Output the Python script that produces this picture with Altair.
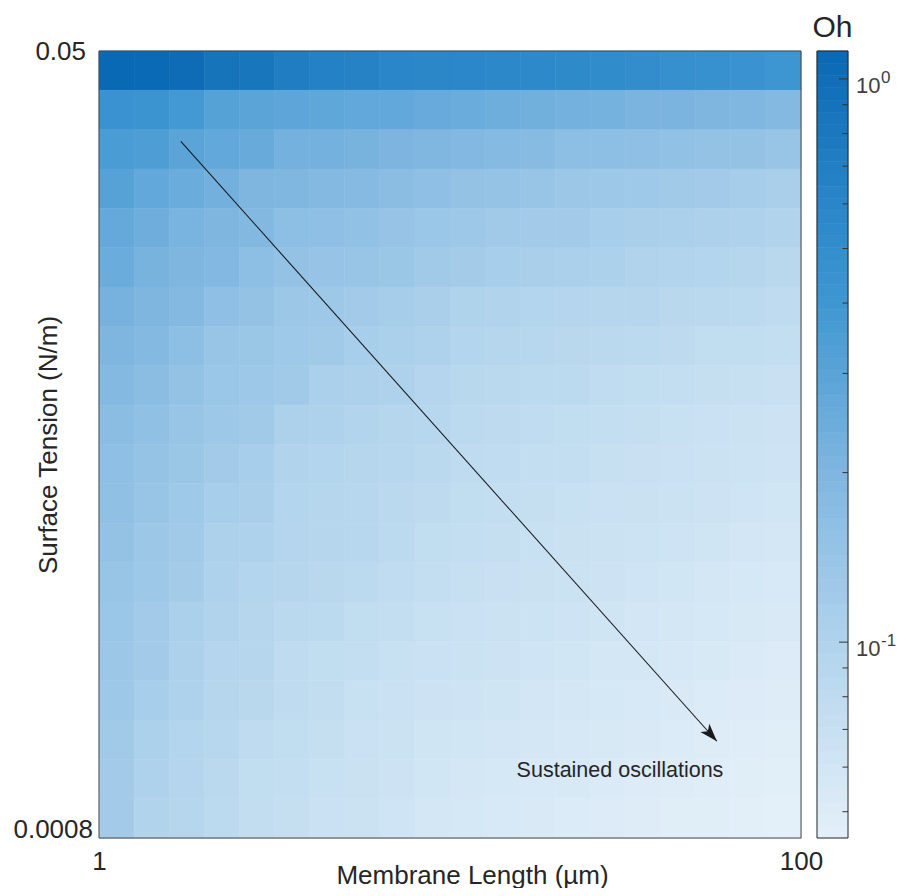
import numpy as np
import pandas as pd
import altair as alt

# ---------------- data ----------------
# grid: 20 log-spaced columns (membrane length 1..100 um) x 20 log-spaced rows (tension 0.0008..0.05 N/m)
length_edges = np.geomspace(1, 100, 21)
tension_edges = np.geomspace(0.0008, 0.05, 21)

# Oh per cell; rows listed from the top (0.05 N/m) to the bottom (0.0008 N/m), columns from 1 to 100 um
oh_r01 = [1.12, 1.10, 1.04, 0.887, 0.853, 0.729, 0.662, 0.649, 0.600, 0.589, 0.583, 0.577, 0.556, 0.545, 0.524, 0.504, 0.476, 0.458, 0.441, 0.416]
oh_r02 = [0.441, 0.432, 0.383, 0.315, 0.299, 0.286, 0.280, 0.274, 0.271, 0.259, 0.251, 0.240, 0.233, 0.225, 0.220, 0.211, 0.209, 0.202, 0.197, 0.186]
oh_r03 = [0.355, 0.340, 0.299, 0.271, 0.257, 0.225, 0.223, 0.216, 0.204, 0.197, 0.191, 0.183, 0.178, 0.165, 0.163, 0.160, 0.154, 0.151, 0.149, 0.141]
oh_r04 = [0.312, 0.271, 0.251, 0.228, 0.202, 0.197, 0.186, 0.180, 0.168, 0.160, 0.151, 0.147, 0.141, 0.132, 0.131, 0.127, 0.125, 0.120, 0.116, 0.111]
oh_r05 = [0.265, 0.238, 0.213, 0.200, 0.189, 0.165, 0.160, 0.154, 0.145, 0.137, 0.129, 0.125, 0.121, 0.120, 0.114, 0.111, 0.108, 0.105, 0.103, 0.0988]
oh_r06 = [0.251, 0.216, 0.202, 0.191, 0.163, 0.149, 0.143, 0.141, 0.134, 0.125, 0.118, 0.114, 0.109, 0.108, 0.106, 0.0988, 0.0973, 0.0959, 0.0931, 0.0866]
oh_r07 = [0.218, 0.202, 0.186, 0.160, 0.151, 0.132, 0.129, 0.120, 0.116, 0.111, 0.100, 0.0988, 0.0959, 0.0945, 0.0931, 0.0918, 0.0866, 0.0853, 0.0828, 0.0804]
oh_r08 = [0.200, 0.186, 0.163, 0.141, 0.134, 0.127, 0.123, 0.113, 0.108, 0.102, 0.0959, 0.0931, 0.0904, 0.0866, 0.0853, 0.0840, 0.0816, 0.0769, 0.0769, 0.0736]
oh_r09 = [0.186, 0.168, 0.151, 0.137, 0.131, 0.125, 0.108, 0.105, 0.103, 0.0945, 0.0878, 0.0853, 0.0840, 0.0828, 0.0781, 0.0769, 0.0736, 0.0725, 0.0715, 0.0694]
oh_r10 = [0.168, 0.158, 0.141, 0.129, 0.125, 0.105, 0.102, 0.0973, 0.0931, 0.0891, 0.0840, 0.0816, 0.0781, 0.0769, 0.0747, 0.0725, 0.0704, 0.0684, 0.0655, 0.0636]
oh_r11 = [0.160, 0.147, 0.134, 0.120, 0.114, 0.0988, 0.0959, 0.0931, 0.0891, 0.0853, 0.0804, 0.0781, 0.0747, 0.0736, 0.0715, 0.0694, 0.0684, 0.0664, 0.0645, 0.0626]
oh_r12 = [0.158, 0.141, 0.127, 0.113, 0.109, 0.0959, 0.0931, 0.0904, 0.0853, 0.0816, 0.0769, 0.0747, 0.0725, 0.0704, 0.0684, 0.0674, 0.0655, 0.0636, 0.0617, 0.0599]
oh_r13 = [0.151, 0.132, 0.123, 0.105, 0.102, 0.0945, 0.0918, 0.0891, 0.0840, 0.0769, 0.0747, 0.0725, 0.0704, 0.0674, 0.0664, 0.0645, 0.0626, 0.0608, 0.0591, 0.0574]
oh_r14 = [0.141, 0.129, 0.118, 0.102, 0.0959, 0.0931, 0.0866, 0.0840, 0.0781, 0.0736, 0.0715, 0.0694, 0.0674, 0.0655, 0.0636, 0.0617, 0.0599, 0.0582, 0.0565, 0.0549]
oh_r15 = [0.137, 0.121, 0.108, 0.0988, 0.0918, 0.0853, 0.0828, 0.0769, 0.0736, 0.0704, 0.0684, 0.0664, 0.0645, 0.0626, 0.0608, 0.0591, 0.0574, 0.0565, 0.0541, 0.0533]
oh_r16 = [0.132, 0.120, 0.105, 0.0945, 0.0918, 0.0804, 0.0769, 0.0747, 0.0704, 0.0684, 0.0655, 0.0636, 0.0617, 0.0599, 0.0582, 0.0574, 0.0557, 0.0541, 0.0525, 0.0510]
oh_r17 = [0.129, 0.113, 0.102, 0.0931, 0.0866, 0.0792, 0.0758, 0.0704, 0.0684, 0.0636, 0.0626, 0.0608, 0.0591, 0.0582, 0.0565, 0.0549, 0.0533, 0.0517, 0.0510, 0.0495]
oh_r18 = [0.125, 0.106, 0.0959, 0.0904, 0.0792, 0.0769, 0.0725, 0.0684, 0.0664, 0.0608, 0.0599, 0.0591, 0.0574, 0.0557, 0.0541, 0.0533, 0.0517, 0.0502, 0.0488, 0.0481]
oh_r19 = [0.121, 0.103, 0.0945, 0.0853, 0.0769, 0.0747, 0.0704, 0.0674, 0.0636, 0.0599, 0.0582, 0.0565, 0.0549, 0.0541, 0.0525, 0.0510, 0.0502, 0.0488, 0.0474, 0.0467]
oh_r20 = [0.120, 0.0988, 0.0918, 0.0840, 0.0758, 0.0725, 0.0684, 0.0655, 0.0617, 0.0582, 0.0565, 0.0549, 0.0533, 0.0517, 0.0510, 0.0495, 0.0481, 0.0474, 0.0460, 0.0453]

oh_rows = [oh_r01, oh_r02, oh_r03, oh_r04, oh_r05, oh_r06, oh_r07, oh_r08, oh_r09, oh_r10,
           oh_r11, oh_r12, oh_r13, oh_r14, oh_r15, oh_r16, oh_r17, oh_r18, oh_r19, oh_r20]

# colour bar: range, colour stops, ticks
oh_min, oh_max = 0.0449, 1.121
cmap_values = [oh_min, 0.1, 0.2, 0.4, 0.6, oh_max]
cmap_colors = ["#e4f0f9", "#b0d3ec", "#7fb6e0", "#3f97d2", "#2a86c8", "#0a69b4"]
cb_major = [1.0, 0.1]
cb_major_exp = ["0", "-1"]
cb_minor = [0.05, 0.06, 0.07, 0.08, 0.09, 0.2, 0.3, 0.4, 0.5, 0.6, 0.7, 0.8, 0.9]

# annotation (data coordinates)
arrow_length = [1.71, 57.6]
arrow_tension = [0.0311, 0.00133]
note_length = 30.5
note_tension = 0.00110
note_text = "Sustained oscillations"

# ---------------- tables ----------------
cells = []
for i, row in enumerate(oh_rows):
    for j, v in enumerate(row):
        cells.append({
            "L0": length_edges[j], "L1": length_edges[j + 1],
            "S0": tension_edges[19 - i], "S1": tension_edges[20 - i],
            "Oh": v,
        })
cells = pd.DataFrame(cells)

cb_edges = np.geomspace(oh_min, oh_max, 65)
cbar = pd.DataFrame({"lo": cb_edges[:-1], "hi": cb_edges[1:],
                     "Oh": np.sqrt(cb_edges[:-1] * cb_edges[1:])})
major_df = pd.DataFrame({"v": cb_major, "exp": cb_major_exp})
minor_df = pd.DataFrame({"v": cb_minor})
arrow_df = pd.DataFrame({"La": [arrow_length[0]], "Lb": [arrow_length[1]],
                         "Sa": [arrow_tension[0]], "Sb": [arrow_tension[1]]})
note_df = pd.DataFrame({"L": [note_length], "S": [note_tension], "t": [note_text]})

# ---------------- styling ----------------
FONT = "Liberation Sans"
TXT = "#262626"
W, H = 702, 787
CB_X0, CB_X1 = 718, 749

cscale = alt.Scale(type="log", domain=cmap_values, range=cmap_colors, interpolate="rgb")
xscale = alt.Scale(type="log", domain=[1, 100], nice=False, zero=False)
yscale = alt.Scale(type="log", domain=[0.0008, 0.05], nice=False, zero=False)
cbscale = alt.Scale(type="log", domain=[oh_min, oh_max], nice=False, zero=False)

xaxis = alt.Axis(values=[1, 100], labelExpr="datum.value < 10 ? '1' : '100'",
                 labelFlush=False, labelFontSize=26, labelColor=TXT, labelFont=FONT,
                 labelBaseline="alphabetic", labelPadding=31, ticks=False, tickSize=0,
                 domain=False, grid=False, title="Membrane Length (µm)",
                 titleFontSize=26, titleFontWeight="normal", titleColor=TXT, titleFont=FONT,
                 titleX=373, titleY=45, titleBaseline="alphabetic", titleAlign="center")
yaxis = alt.Axis(labels=False, ticks=False, domain=False, grid=False,
                 title="Surface Tension (N/m)", titleFontSize=26, titleFontWeight="normal",
                 titleColor=TXT, titleFont=FONT, titleX=-43, titleY=393.5, titleAngle=270,
                 titleBaseline="alphabetic", titleAlign="center")

heat = alt.Chart(cells).mark_rect(strokeWidth=0.6).encode(
    x=alt.X("L0:Q", scale=xscale, axis=xaxis),
    x2="L1:Q",
    y=alt.Y("S0:Q", scale=yscale, axis=yaxis),
    y2="S1:Q",
    color=alt.Color("Oh:Q", scale=cscale, legend=None),
    stroke=alt.Stroke("Oh:Q", scale=cscale, legend=None),
)

frame = alt.Chart(note_df).mark_rect(fill="transparent", stroke="#4d4d4d", strokeWidth=1).encode(
    x=alt.value(0), x2=alt.value(W), y=alt.value(0), y2=alt.value(H))

arrow_line = alt.Chart(arrow_df).mark_rule(color="#1a1a1a", strokeWidth=1.1).encode(
    x="La:Q", x2="Lb:Q", y="Sa:Q", y2="Sb:Q")
arrow_head = alt.Chart(arrow_df).mark_point(
    shape="M0,0L0.6,1.8L0,1.35L-0.6,1.8Z", filled=True, fill="#1a1a1a",
    strokeWidth=0, size=400, angle=138, opacity=1).encode(x="Lb:Q", y="Sb:Q")

note = alt.Chart(note_df).mark_text(fontSize=21.5, font=FONT, color=TXT, align="center",
                                    baseline="alphabetic").encode(x="L:Q", y="S:Q", text="t:N")

ylab_top = alt.Chart(note_df).mark_text(fontSize=26, font=FONT, color=TXT, align="right",
                                        baseline="middle", dy=1).encode(
    x=alt.value(-13), y=alt.datum(0.05), text=alt.value("0.05"))
ylab_bot = alt.Chart(note_df).mark_text(fontSize=26, font=FONT, color=TXT, align="right",
                                        baseline="middle", dy=-8).encode(
    x=alt.value(-6), y=alt.datum(0.0008), text=alt.value("0.0008"))

oh_title = alt.Chart(note_df).mark_text(fontSize=30, font=FONT, color=TXT, align="center",
                                        baseline="alphabetic").encode(
    x=alt.value((CB_X0 + CB_X1) / 2), y=alt.value(-14), text=alt.value("Oh"))

heat_layer = alt.layer(heat, frame, arrow_line, arrow_head, note, ylab_top, ylab_bot, oh_title)

cb_rects = alt.Chart(cbar).mark_rect(strokeWidth=0.6).encode(
    x=alt.value(CB_X0), x2=alt.value(CB_X1),
    y=alt.Y("lo:Q", scale=cbscale, axis=None), y2="hi:Q",
    color=alt.Color("Oh:Q", scale=cscale, legend=None),
    stroke=alt.Stroke("Oh:Q", scale=cscale, legend=None),
)
cb_frame = alt.Chart(note_df).mark_rect(fill="transparent", stroke="#262626", strokeWidth=1).encode(
    x=alt.value(CB_X0), x2=alt.value(CB_X1), y=alt.value(0), y2=alt.value(H))
cb_major_ticks = alt.Chart(major_df).mark_rule(color="#333333", strokeWidth=1).encode(
    x=alt.value(CB_X1 - 9), x2=alt.value(CB_X1), y=alt.Y("v:Q", scale=cbscale, axis=None))
cb_minor_ticks = alt.Chart(minor_df).mark_rule(color="#333333", strokeWidth=1).encode(
    x=alt.value(CB_X1 - 5.5), x2=alt.value(CB_X1), y=alt.Y("v:Q", scale=cbscale, axis=None))
cb_ten = alt.Chart(major_df).mark_text(fontSize=22, font=FONT, color="#404040", align="left",
                                       baseline="alphabetic", dy=14).encode(
    x=alt.value(CB_X1 + 8), y=alt.Y("v:Q", scale=cbscale, axis=None), text=alt.value("10"))
cb_exp = alt.Chart(major_df).mark_text(fontSize=17, font=FONT, color="#404040", align="left",
                                       baseline="alphabetic", dy=4).encode(
    x=alt.value(CB_X1 + 33), y=alt.Y("v:Q", scale=cbscale, axis=None), text="exp:N")

cb_layer = alt.layer(cb_rects, cb_frame, cb_minor_ticks, cb_major_ticks, cb_ten, cb_exp)

chart = alt.layer(heat_layer, cb_layer).resolve_scale(y="independent").properties(
    width=W, height=H,
    autosize=alt.AutoSizeParams(type="none"),
    padding={"left": 91, "top": 43, "right": 95, "bottom": 50},
).configure_view(stroke="transparent").configure(font=FONT)

chart.save("out.html", embed_options={"renderer": "svg", "actions": False})
